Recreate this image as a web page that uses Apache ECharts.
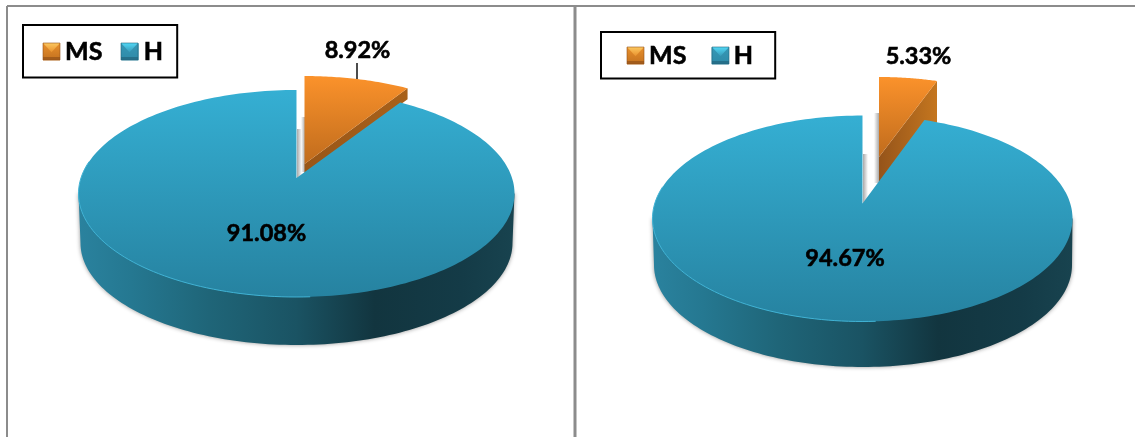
<!DOCTYPE html>
<html><head><meta charset="utf-8">
<style>html,body{margin:0;padding:0;background:#fff}#c{width:1135px;height:437px}</style>
<script src="https://cdn.jsdelivr.net/npm/echarts@6/dist/echarts.min.js"></script>
</head><body><div id="c"></div>
<script>
const categories = ['MS', 'H'];
const leftValues = [8.92, 91.08];
const rightValues = [5.33, 94.67];

const panels = [
  { values: leftValues,
    blue: { cx: 296.5, cy: 193.5, rx: 218, ry: 103.5, ax: 296.5, ay: 178, rayRy: 99.6 },
    base: { cx: 296.5, cy: 243, rx: 216, ry: 102 },
    orange: { cx: 304.5, cy: 179.5, rx: 218, ry: 103.5, ax: 304.5, ay: 164, rayRy: 100.5 },
    faceDepth: 11, faceColors: ['#995617', '#a8611a'],
    labels: [[266.5, 233], [357.5, 50]],
    leader: [357, 63, 357, 79],
    shades: [[297, 129, 5, 49, 0], [301, 117, 4, 55, 1]],
    legend: { left: 23, top: 25, padding: [14, 14, 13, 20], itemGap: 19 },
    marks: [[43, 43], [121, 43]] },
  { values: rightValues,
    blue: { cx: 862.5, cy: 218.5, rx: 210, ry: 103, ax: 862.5, ay: 203.5, rayRy: 98.4 },
    base: { cx: 863, cy: 265, rx: 209, ry: 102 },
    orange: { cx: 879, cy: 180, rx: 210, ry: 103, ax: 879, ay: 157, rayRy: 95.8 },
    faceDepth: 42, faceColors: ['#95541a', '#c4761f'],
    labels: [[845, 258], [918.5, 56]],
    leader: null,
    shades: [[863, 154, 5, 49, 0], [874, 113, 5, 70, 1]],
    legend: { left: 601, top: 32, padding: [11, 22, 10, 26], itemGap: 25 },
    marks: [[627, 47], [712, 47]] }
];
const G = echarts.graphic.LinearGradient;

function rayParam(g, deg) {
  const th = deg * Math.PI / 180;
  const dx = Math.sin(th) * g.rx, dy = -Math.cos(th) * g.rayRy;
  const ux = (g.ax - g.cx) / g.rx, uy = (g.ay - g.cy) / g.ry;
  const vx = dx / g.rx, vy = dy / g.ry;
  const a = vx * vx + vy * vy, b = 2 * (ux * vx + uy * vy), c = ux * ux + uy * uy - 1;
  const s = (-b + Math.sqrt(b * b - 4 * a * c)) / (2 * a);
  return Math.atan2(ux + s * vx, -(uy + s * vy));
}
function pt(g, t) { return [g.cx + g.rx * Math.sin(t), g.cy - g.ry * Math.cos(t)]; }
function arc(g, t0, t1, n) {
  const out = [];
  for (let i = 0; i <= n; i++) out.push(pt(g, t0 + (t1 - t0) * i / n));
  return out;
}
function vgrad(a, b) { return new G(0, 0, 0, 1, [{ offset: 0, color: a }, { offset: 1, color: b }]); }

function msRender(p) {
  return function (params, api) {
    const v = api.value(0), total = p.values[0] + p.values[1];
    const g = p.orange, sweep = v / total * 360;
    const tEnd = rayParam(g, sweep), tip = pt(g, tEnd), d = p.faceDepth;
    const children = [];
    p.shades.forEach(function (s) {
      children.push({ type: 'rect', shape: { x: s[0], y: s[1], width: s[2], height: s[3] },
        style: { fill: new G(0, 0, 1, 0, s[4]
          ? [{ offset: 0, color: '#ffffff' }, { offset: 1, color: '#a9a9a9' }]
          : [{ offset: 0, color: '#a9a9a9' }, { offset: 1, color: '#ffffff' }]) } });
    });
    children.push({ type: 'polygon',
      shape: { points: [[g.ax, g.ay], tip, [tip[0], tip[1] + d], [g.ax, g.ay + d]] },
      style: { fill: new G(0, 0, 1, 0, [{ offset: 0, color: p.faceColors[0] }, { offset: 1, color: p.faceColors[1] }]) } });
    children.push({ type: 'polygon',
      shape: { points: [[g.ax, g.ay]].concat(arc(g, rayParam(g, 0), tEnd, 40)) },
      style: { fill: vgrad('#fb922b', '#c06c1d') } });
    if (p.leader) children.push({ type: 'line',
      shape: { x1: p.leader[0], y1: p.leader[1], x2: p.leader[2], y2: p.leader[3] },
      style: { stroke: '#111', lineWidth: 1.5 } });
    children.push(labelEl(p.labels[1], v));
    return { type: 'group', children: children };
  };
}
function hRender(p) {
  return function (params, api) {
    const v = api.value(0), total = p.values[0] + p.values[1];
    const g = p.blue, b = p.base;
    const start = 360 - v / total * 360;
    const t0 = rayParam(g, start), t1 = rayParam(g, 359.999);
    const wall = [[g.cx - g.rx, g.cy], [b.cx - b.rx, b.cy]]
      .concat(arc(b, -Math.PI / 2, -Math.PI * 1.5, 120))
      .concat([[g.cx + g.rx, g.cy]]);
    const tStop = t1 < 0 ? t1 + 2 * Math.PI : t1;
    const top = [[g.ax, g.ay]].concat(arc(g, t0, tStop, 240));
    return { type: 'group', children: [
      { type: 'polygon', shape: { points: wall },
        style: { fill: new G(0, 0, 1, 0, [
          { offset: 0, color: '#2a829e' }, { offset: 0.12, color: '#257891' },
          { offset: 0.3, color: '#1f6578' }, { offset: 0.5, color: '#1a5363' },
          { offset: 0.68, color: '#12353f' }, { offset: 0.88, color: '#143b47' },
          { offset: 1, color: '#18434f' }]),
          shadowBlur: 4, shadowColor: 'rgba(90,90,90,0.65)' } },
      { type: 'polygon', shape: { points: top }, style: { fill: vgrad('#35afd3', '#2682a0') } },
      { type: 'polyline', shape: { points: arc(g, Math.PI * 0.98, Math.PI * 1.6, 60) },
        style: { fill: null, stroke: '#41b3d5', lineWidth: 1 } },
      labelEl(p.labels[0], v)
    ] };
  };
}
function labelEl(pos, v) {
  return { type: 'text', z2: 50, style: { x: pos[0], y: pos[1], text: v.toFixed(2) + '%',
    fill: '#000', stroke: '#000', lineWidth: 0.6, font: 'bold 23.5px Lato', align: 'center', verticalAlign: 'middle' } };
}
function bevel(x, y, c) {
  const s = 17;
  const mk = function (pts, fill) { return { type: 'polygon', z: 100, silent: true, shape: { points: pts }, style: { fill: fill } }; };
  return [
    mk([[x, y], [x + s, y], [x + s, y + s], [x, y + s]], vgrad(c.mid, c.low)),
    mk([[x, y], [x + s, y], [x + s / 2, y + s * 0.55]], vgrad(c.top, c.mid)),
    mk([[x, y + s - 3], [x + s, y + s - 3], [x + s, y + s], [x, y + s]], c.bottom),
    { type: 'rect', z: 100, silent: true, shape: { x: x, y: y, width: s, height: s },
      style: { fill: 'transparent', stroke: c.edge, lineWidth: 0.6 } }
  ];
}
const orangeBevel = { mid: '#e8902c', low: '#c4721f', top: '#fcc860', bottom: '#a35c1a', edge: '#94521a' };
const blueBevel = { mid: '#3798b6', low: '#2e8aa8', top: '#52d8f6', bottom: '#25708a', edge: '#22667e' };

const series = [], legends = [], graphics = [];
panels.forEach(function (p) {
  series.push({ type: 'custom', name: categories[0], coordinateSystem: 'none', silent: true, animation: false,
    itemStyle: { color: '#d5801f' }, data: [[p.values[0]]], renderItem: msRender(p) });
  graphics.push.apply(graphics, bevel(p.marks[0][0], p.marks[0][1], orangeBevel));
  graphics.push.apply(graphics, bevel(p.marks[1][0], p.marks[1][1], blueBevel));
});
panels.forEach(function (p) {
  series.push({ type: 'custom', name: categories[1], coordinateSystem: 'none', silent: true, animation: false,
    itemStyle: { color: '#2f8fad' }, data: [[p.values[1]]], renderItem: hRender(p) });
  legends.push({ data: categories, left: p.legend.left, top: p.legend.top, padding: p.legend.padding,
    itemGap: p.legend.itemGap, itemWidth: 17, itemHeight: 17, icon: 'rect', selectedMode: false,
    orient: 'horizontal', borderColor: '#000', borderWidth: 2, backgroundColor: '#fff',
    textStyle: { color: '#000', fontFamily: 'Lato', fontWeight: 'bold', fontSize: 25, lineHeight: 25,
      textBorderColor: '#000', textBorderWidth: 0.6 } });
});
[[7, 6, 7, 437, 2], [7, 6, 1135, 6, 2], [575, 6, 575, 437, 3]].forEach(function (l) {
  graphics.push({ type: 'line', z: 1, silent: true, shape: { x1: l[0], y1: l[1], x2: l[2], y2: l[3] },
    style: { stroke: '#8c8c8c', lineWidth: l[4] } });
});

const chart = echarts.init(document.getElementById('c'), null, { renderer: 'canvas' });
chart.setOption({ backgroundColor: '#fff', animation: false, legend: legends, graphic: { elements: graphics }, series: series });
</script></body></html>
